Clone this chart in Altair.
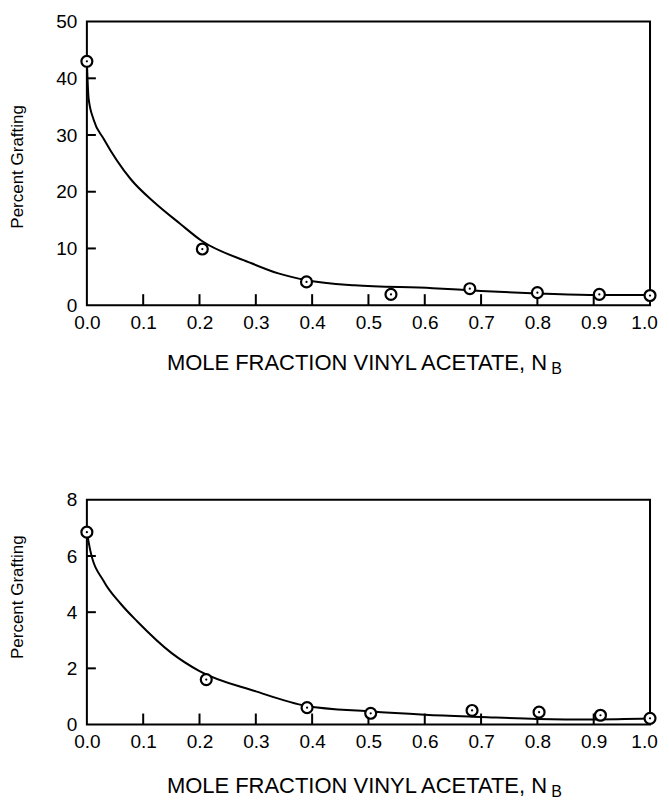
import altair as alt
import pandas as pd

FONT = "Liberation Sans"

# ---- shared axis values ----
x_tick_values = [0.0, 0.1, 0.2, 0.3, 0.4, 0.5, 0.6, 0.7, 0.8, 0.9, 1.0]
x_inner_ticks = [0.1, 0.2, 0.3, 0.4, 0.5, 0.6, 0.7, 0.8, 0.9]
x_title = "MOLE FRACTION VINYL ACETATE, N"
x_sub = "B"
y_title = "Percent Grafting"

# ---- top panel ----
top_y_labels = [0, 10, 20, 30, 40, 50]
top_y_inner = [10, 20, 30, 40]
top_pt_x = [0.0, 0.205, 0.39, 0.54, 0.68, 0.80, 0.91, 1.0]
top_pt_y = [43.0, 9.9, 4.1, 1.9, 2.9, 2.2, 1.9, 1.7]
top_curve_x = [0.0, 0.003, 0.012, 0.03, 0.078, 0.12, 0.165, 0.203, 0.287,
               0.34, 0.39, 0.475, 0.614, 0.70, 0.80, 0.90, 1.0]
top_curve_y = [43.0, 36.5, 32.7, 29.3, 22.2, 18.1, 14.4, 11.4, 7.6,
               5.6, 4.4, 3.5, 3.0, 2.5, 2.06, 1.8, 1.8]

# ---- bottom panel ----
bot_y_labels = [0, 2, 4, 6, 8]
bot_y_inner = [2, 4, 6]
bot_pt_x = [0.0, 0.212, 0.391, 0.504, 0.684, 0.803, 0.912, 1.0]
bot_pt_y = [6.85, 1.6, 0.6, 0.4, 0.5, 0.44, 0.33, 0.22]
bot_curve_x = [0.0, 0.006, 0.03, 0.06, 0.09, 0.15, 0.20, 0.30, 0.39,
               0.50, 0.60, 0.70, 0.80, 0.90, 1.0]
bot_curve_y = [6.85, 6.2, 5.1, 4.3, 3.66, 2.55, 1.9, 1.18, 0.66,
               0.47, 0.35, 0.27, 0.20, 0.18, 0.21]

W = 564
H_TOP = 284
H_BOT = 225


def panel(pt_x, pt_y, cx, cy, ymax, ylabels, yinner, H, title_y, y_title_y):
    xs = alt.Scale(domain=[0, 1], nice=False, zero=False)
    ys = alt.Scale(domain=[0, ymax], nice=False, zero=True)
    x_axis = alt.Axis(values=x_tick_values, format=".1f", title=x_title,
                      ticks=False, domain=False, grid=False, labelFlush=False,
                      labelOffset={"condition": {"test": "datum.value >= 1",
                                                 "value": -6},
                                   "value": 0},
                      labelPadding=8, labelFontSize=19, labelFont=FONT,
                      labelColor="black", titleFont=FONT, titleFontSize=22,
                      titleFontWeight="normal", titleColor="black",
                      titleX=270, titleY=title_y, titleBaseline="alphabetic",
                      titleAlign="center")
    y_axis = alt.Axis(values=ylabels, title=y_title, ticks=False, domain=False,
                      grid=False, labelPadding=10, labelFontSize=19,
                      labelFont=FONT, labelColor="black", titleFont=FONT,
                      titleFontSize=17, titleFontWeight="normal",
                      titleColor="black", titleAngle=270, titleX=-60,
                      titleY=y_title_y, titleBaseline="bottom",
                      titleAlign="center")
    X = alt.X("x:Q", scale=xs, axis=x_axis)
    Y = alt.Y("y:Q", scale=ys, axis=y_axis)

    pts = pd.DataFrame({"x": pt_x, "y": pt_y})
    crv = pd.DataFrame({"x": cx, "y": cy})
    xt = pd.DataFrame({"x": x_inner_ticks})
    yt = pd.DataFrame({"y": yinner})

    xticks = alt.Chart(xt).mark_rule(color="black", strokeWidth=2).encode(
        x=X, y=alt.value(H), y2=alt.value(H - 11))
    yticks = alt.Chart(yt).mark_rule(color="black", strokeWidth=2).encode(
        y=Y, x=alt.value(0), x2=alt.value(9))
    line = alt.Chart(crv).mark_line(color="black", strokeWidth=2,
                                    interpolate="monotone").encode(x=X, y=Y)
    circles = alt.Chart(pts).mark_point(shape="circle", filled=True,
                                        fill="white", stroke="black",
                                        strokeWidth=2.2, size=120,
                                        opacity=1).encode(x=X, y=Y)
    dots = alt.Chart(pts).mark_circle(color="black", size=5,
                                      opacity=1).encode(x=X, y=Y)
    sub = alt.Chart(pd.DataFrame({"t": [x_sub]})).mark_text(
        font=FONT, fontSize=16, align="left", baseline="alphabetic",
        color="black").encode(text="t:N", x=alt.value(465),
                              y=alt.value(H + title_y + 5))
    return alt.layer(xticks, yticks, line, circles, dots, sub).properties(
        width=W, height=H)


top = panel(top_pt_x, top_pt_y, top_curve_x, top_curve_y, 50,
            top_y_labels, top_y_inner, H_TOP, 64, 145)
bot = panel(bot_pt_x, bot_pt_y, bot_curve_x, bot_curve_y, 8,
            bot_y_labels, bot_y_inner, H_BOT, 68, 97)

chart = alt.vconcat(top, bot, spacing=112).properties(
    padding={"left": 0, "top": 3, "right": 0, "bottom": 5},
    background="white",
).configure_view(stroke="black", strokeWidth=2)

chart.save("out.html", embed_options={"renderer": "svg", "actions": False})
